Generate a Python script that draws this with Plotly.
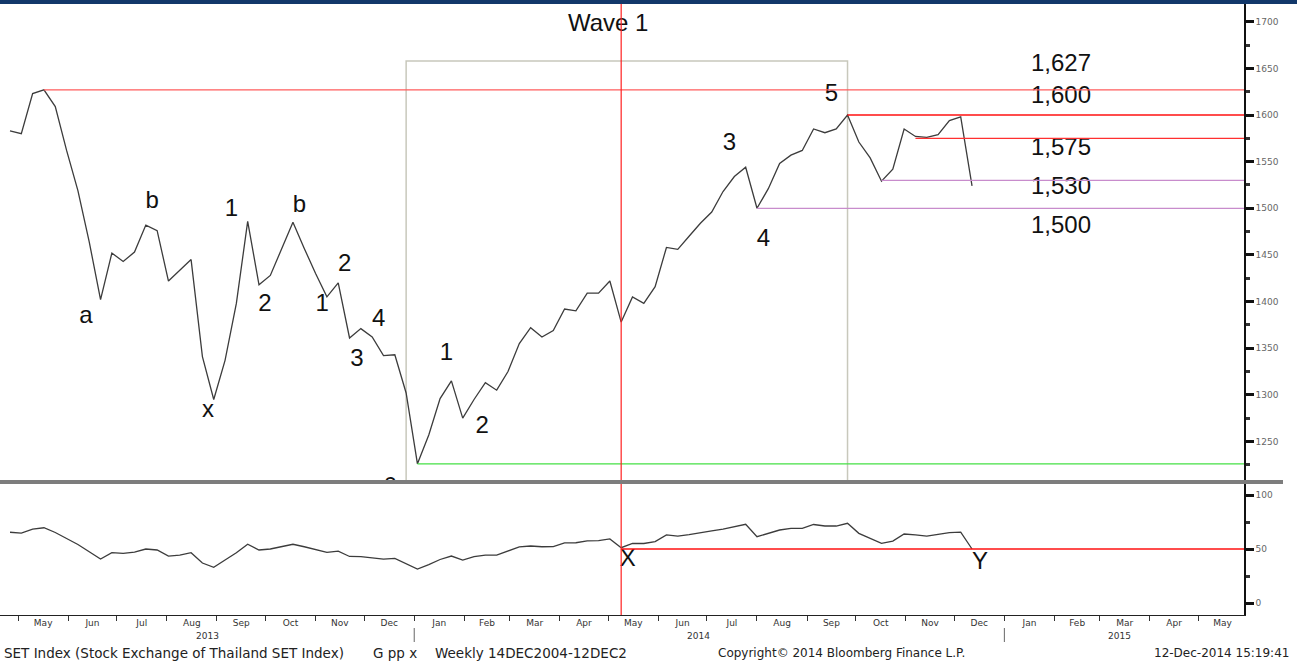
import plotly.graph_objects as go
import pandas as pd

# ---------------- data (weekly) ----------------
dates = pd.date_range("2013-04-26", periods=86, freq="7D")

price = [1583, 1580, 1623, 1627, 1609, 1562, 1519, 1464, 1402, 1452,
         1443, 1453, 1482, 1476, 1422, 1434, 1445, 1341, 1295, 1337,
         1398, 1486, 1418, 1428, 1457, 1485, 1457, 1430, 1405, 1420,
         1361, 1371, 1362, 1342, 1343, 1302, 1226, 1257, 1296, 1315,
         1275, 1295, 1313, 1305, 1325, 1355, 1372, 1362, 1369, 1392,
         1390, 1409, 1409, 1422, 1378, 1405, 1398, 1416, 1458, 1456,
         1470, 1484, 1496, 1518, 1534, 1544, 1500, 1521, 1548, 1557,
         1562, 1585, 1581, 1585, 1600, 1571, 1554, 1529, 1542, 1585,
         1577, 1576, 1579, 1594, 1598, 1524]

rsi = [65.5, 64.8, 68.5, 69.7, 65.3, 59.9, 54.2, 47.5, 40.7, 46.6,
       46.0, 47.2, 50.0, 49.1, 43.5, 44.4, 46.6, 37.0, 33.0, 39.8,
       46.6, 54.4, 49.1, 50.0, 52.1, 54.4, 52.1, 49.3, 46.9, 48.1,
       43.1, 42.9, 41.9, 40.7, 41.4, 36.1, 31.5, 35.6, 40.3, 43.5,
       39.8, 42.9, 44.4, 44.4, 47.9, 51.9, 52.8, 52.1, 52.3, 55.7,
       55.8, 57.6, 57.7, 59.3, 51.2, 55.3, 55.1, 56.8, 63.0, 62.0,
       63.4, 64.8, 66.7, 68.5, 70.8, 72.9, 61.4, 64.5, 67.6, 69.2,
       69.2, 72.7, 71.3, 71.3, 73.8, 64.5, 59.9, 55.3, 57.4, 63.9,
       63.0, 62.0, 63.6, 65.1, 65.7, 50.0]

level_values = [1627, 1600, 1575, 1530, 1500, 1226]
level_start_idx = [3, 74, 80, 77, 66, 36]
level_colors = ["#ff5c5c", "#ff1010", "#ff3030", "#c88ccc", "#c88ccc", "#44e044"]

level_labels = ["1,627", "1,600", "1,575", "1,530", "1,500"]
level_label_y = [1654, 1619, 1563.5, 1522, 1480]
level_label_x = "2015-02-05"

wave_text = ["a", "b", "x", "1", "2", "b", "2", "1", "3", "4", "c",
             "1", "2", "3", "4", "5"]
wave_x = ["2013-06-12", "2013-07-23", "2013-08-26 12:00", "2013-09-10",
          "2013-09-30 17:00", "2013-10-22", "2013-11-19", "2013-11-05",
          "2013-11-26 14:00", "2013-12-10", "2013-12-17", "2014-01-21",
          "2014-02-12", "2014-07-15", "2014-08-05", "2014-09-16"]
wave_y = [1383, 1507, 1283, 1498, 1396, 1502, 1439, 1396, 1337, 1380, 1204,
          1344, 1265, 1569, 1466, 1621]

title_text = "Wave 1"
title_x, title_y = "2014-05-01", 1696.5

box_idx = (35, 74)
box_top = 1658

rsi_level = 50
rsi_level_idx = 54
pivot_idx = 54
rsi_labels = ["X", "Y"]
rsi_label_x = ["2014-05-13", "2014-12-17"]
rsi_label_y = [39.8, 37.0]

year_labels = ["2013", "2014", "2015"]
year_label_x = ["2013-08-26", "2014-06-26", "2015-03-13"]
year_breaks = ["2014-01-01", "2015-01-01"]

x_range = ["2013-04-19 19:30", "2015-05-29 05:00"]
y_range = [1208.7, 1719.0]
y2_range = [-11.1, 110.2]

W, H = 1297, 664
def py(px):
    return 1 - px / H

LINE = "#3c3c3c"
BIG = dict(family="Liberation Sans, Arial, sans-serif", size=24, color="#111111")
SMALL = dict(family="DejaVu Sans, Verdana, sans-serif", size=9, color="#333333")

fig = go.Figure()

fig.add_trace(go.Scatter(x=dates, y=price, mode="lines",
                         line=dict(color=LINE, width=1.3),
                         xaxis="x", yaxis="y", showlegend=False, hoverinfo="skip"))
fig.add_trace(go.Scatter(x=dates, y=rsi, mode="lines",
                         line=dict(color=LINE, width=1.3),
                         xaxis="x", yaxis="y2", showlegend=False, hoverinfo="skip"))

# wave labels (clipped to the panel, like the cut "c")
fig.add_trace(go.Scatter(x=wave_x + [title_x] + [level_label_x] * len(level_labels),
                         y=wave_y + [title_y] + level_label_y,
                         text=wave_text + [title_text] + level_labels,
                         mode="text", textposition="middle center",
                         textfont=BIG, cliponaxis=True,
                         xaxis="x", yaxis="y", showlegend=False, hoverinfo="skip"))
fig.add_trace(go.Scatter(x=rsi_label_x, y=rsi_label_y, text=rsi_labels,
                         mode="text", textposition="middle center",
                         textfont=BIG, cliponaxis=True,
                         xaxis="x", yaxis="y2", showlegend=False, hoverinfo="skip"))

shapes = []
# gray box
shapes.append(dict(type="rect", xref="x", yref="y",
                   x0=dates[box_idx[0]], x1=dates[box_idx[1]],
                   y0=y_range[0] - 60, y1=box_top,
                   line=dict(color="#c8c8bc", width=1.5), layer="below"))
# level lines
for v, i, c in zip(level_values, level_start_idx, level_colors):
    shapes.append(dict(type="line", xref="x", yref="y",
                       x0=dates[i], x1=x_range[1], y0=v, y1=v,
                       line=dict(color=c, width=1.3)))
# rsi level
shapes.append(dict(type="line", xref="x", yref="y2",
                   x0=dates[rsi_level_idx], x1=x_range[1], y0=rsi_level, y1=rsi_level,
                   line=dict(color="#ff1010", width=1.3)))
# vertical pivot line through both panels
shapes.append(dict(type="line", xref="x", yref="paper",
                   x0=dates[pivot_idx], x1=dates[pivot_idx], y0=py(615), y1=py(4),
                   line=dict(color="#ff2020", width=1.2)))
# separator between panels
shapes.append(dict(type="rect", xref="paper", yref="paper",
                   x0=0, x1=1283 / W, y0=py(484), y1=py(480),
                   line=dict(width=0), fillcolor="#7d7d7d"))
# top navy bar
shapes.append(dict(type="rect", xref="paper", yref="paper",
                   x0=0, x1=1, y0=py(4), y1=1,
                   line=dict(width=0), fillcolor="#12386a"))
# year separators
for d in year_breaks:
    shapes.append(dict(type="line", xref="x", yref="paper",
                       x0=d, x1=d, y0=py(642), y1=py(628),
                       line=dict(color="#666666", width=1)))

annotations = []
for t, d in zip(year_labels, year_label_x):
    annotations.append(dict(text=t, x=d, xref="x", y=py(636), yref="paper",
                            showarrow=False, font=SMALL, xanchor="center", yanchor="middle"))
FOOT = dict(family="DejaVu Sans, Verdana, sans-serif", size=12, color="#222222")
FOOT_WIDE = dict(family="DejaVu Sans, Verdana, sans-serif", size=13.5, color="#222222")
footer = [("SET Index (Stock Exchange of Thailand SET Index)", 2, "left", FOOT_WIDE),
          ("G pp x", 371, "left", FOOT_WIDE),
          ("Weekly 14DEC2004-12DEC2", 433, "left", FOOT_WIDE),
          ("Copyright\u00a9 2014 Bloomberg Finance L.P.", 716, "left", FOOT),
          ("12-Dec-2014 15:19:41", 1291, "right", FOOT)]
for t, xp, anc, f in footer:
    annotations.append(dict(text=t, x=xp / W, y=py(653), xref="paper", yref="paper",
                            showarrow=False, xanchor=anc, yanchor="middle", font=f))

xdom = [0, 1244 / W]
fig.update_layout(
    width=W, height=H,
    margin=dict(l=0, r=0, t=0, b=0),
    paper_bgcolor="white", plot_bgcolor="white",
    showlegend=False,
    shapes=shapes, annotations=annotations,
    xaxis=dict(domain=xdom, anchor="y2", type="date", range=x_range,
               showgrid=False, zeroline=False,
               showline=True, linecolor="#222222", linewidth=1.2,
               dtick="M1", tick0="2013-01-01", ticklabelmode="period",
               tickformat="%b", ticks="outside", ticklen=5, tickcolor="#333333",
               ticklabelstandoff=-6,
               tickfont=SMALL),
    yaxis=dict(domain=[py(480), py(4)], anchor="x", side="right", range=y_range,
               showgrid=False, zeroline=False,
               showline=True, linecolor="#111111", linewidth=1.5,
               tick0=0, dtick=50, ticks="outside", ticklen=8, tickwidth=3,
               tickcolor="#111111",
               minor=dict(dtick=25, tick0=0, ticks="outside", ticklen=4, tickcolor="#333333"),
               tickfont=dict(family="DejaVu Sans, Verdana, sans-serif", size=9, color="#666666")),
    yaxis2=dict(domain=[py(615), py(484)], anchor="x", side="right", range=y2_range,
                showgrid=False, zeroline=False,
                showline=True, linecolor="#111111", linewidth=1.5,
                tick0=0, dtick=50, ticks="outside", ticklen=8, tickwidth=3,
                tickcolor="#111111",
                minor=dict(dtick=25, tick0=0, ticks="outside", ticklen=4, tickcolor="#333333"),
                tickfont=dict(family="DejaVu Sans, Verdana, sans-serif", size=9, color="#666666")),
)

fig.write_html("out.html", config={"displayModeBar": False},
               post_script="document.body.style.margin='0px';document.body.style.padding='0px';document.body.style.overflow='hidden';")
